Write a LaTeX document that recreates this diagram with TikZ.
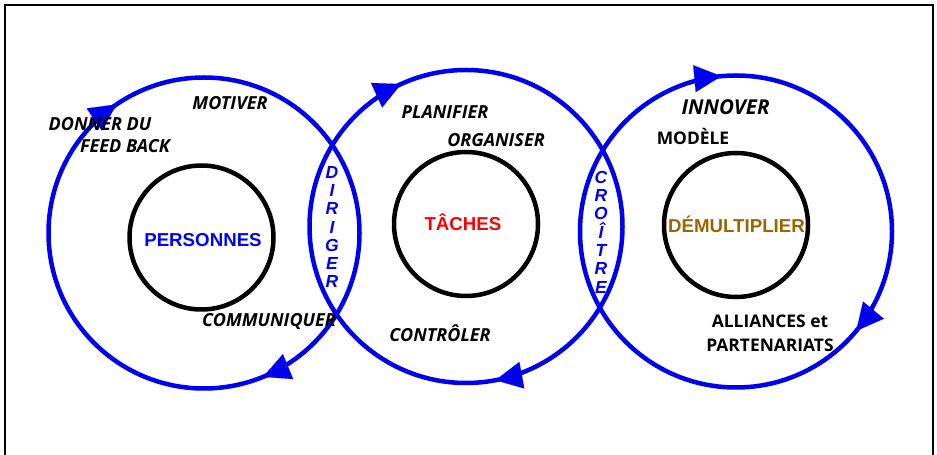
\documentclass[tikz,border=0pt]{standalone}
\usepackage{fontspec}
\setmainfont{Open Sans}
\newfontfamily\headfont{Liberation Sans}
\usetikzlibrary{arrows.meta,decorations.markings}

\definecolor{ringblue}{RGB}{0,0,240}
\definecolor{ocre}{RGB}{153,102,0}

% one letter of a word set downwards
\newcommand\downletter[1]{{\headfont\bfseries\itshape #1}}

\tikzset{
  frameline/.style={draw=black, line width=2pt},
  ring/.style 2 args={draw=ringblue, line width=4.5pt,
    postaction={decorate},
    decoration={markings,
      mark=at position #1 with {\arrowreversed[fill=ringblue,line width=0.1pt]{Triangle[length=27pt,width=27pt]}},
      mark=at position #2 with {\arrowreversed[fill=ringblue,line width=0.1pt]{Triangle[length=27pt,width=27pt]}}}},
  core/.style={circle, draw=black, line width=4.5pt, minimum size=144pt, inner sep=0pt},
  verb/.style={anchor=base, inner sep=0pt, font=\fontsize{18}{20}\selectfont\bfseries\itshape},
  plain/.style={anchor=base, inner sep=0pt, font=\fontsize{17.4}{20}\selectfont\bfseries},
  title/.style={anchor=base, inner sep=0pt, font=\headfont\fontsize{18.7}{20}\selectfont\bfseries},
  column/.style={align=center, inner sep=0pt, text=ringblue,
    font=\fontsize{17.5}{18.3}\selectfont},
}

\begin{document}
\begin{tikzpicture}[x=1pt,y=1pt]
  \useasboundingbox (0,0) rectangle (937,455);

  % open frame round the picture
  \draw[frameline] (5,0) -- (5,450) -- (933,450) -- (933,0);

  % centres of the three cycles
  \coordinate (o1) at (204,222);
  \coordinate (o2) at (466,228.5);
  \coordinate (o3) at (736,223.5);

  % blue cycles, arrows running clockwise
  \draw[ring={0.345}{0.812}] (o1) circle[radius=155.5];
  \draw[ring={0.318}{0.780}] (o2) circle[radius=156.5];
  \draw[ring={0.265}{0.890}] (o3) circle[radius=156];

  % black cores
  \node[core] (core1) at (201.5,217.5) {};
  \node[core] (core2) at (466,231) {};
  \node[core] (core3) at (736,230) {};

  % core titles
  \node[title, text=blue] (personnes) at (203,208) {PERSONNES};
  \node[title, text=red] (taches) at (463,224) {TÂCHES};
  \node[title, text=ocre] (demult) at (736.5,222) {DÉMULTIPLIER};

  % first cycle
  \node[verb] (motiver) at (230,345) {MOTIVER};
  \node[verb] (donner) at (100,324) {DONNER DU};
  \node[verb] (feedback) at (125,302) {FEED BACK};
  \node[verb] (communiquer) at (269,128) {COMMUNIQUER};

  % second cycle
  \node[verb] (planifier) at (445,336) {PLANIFIER};
  \node[verb] (organiser) at (496,308) {ORGANISER};
  \node[verb] (controler) at (440,113) {CONTRÔLER};

  % third cycle
  \node[verb, font=\fontsize{20.5}{22}\selectfont\bfseries\itshape] (innover) at (725.5,340) {INNOVER};
  \node[plain] (modele) at (693,310) {MODÈLE};
  \node[plain] (alliances) at (770,127) {ALLIANCES et};
  \node[plain] (partenariats) at (770,103) {PARTENARIATS};

  % words set down the overlaps
  \node[column] (diriger) at (332,228) {\downletter{D}\\\downletter{I}\\\downletter{R}\\\downletter{I}\\\downletter{G}\\\downletter{E}\\\downletter{R}};
  \node[column] (croitre) at (601,223) {\downletter{C}\\\downletter{R}\\\downletter{O}\\\downletter{Î}\\\downletter{T}\\\downletter{R}\\\downletter{E}};
\end{tikzpicture}
\end{document}
